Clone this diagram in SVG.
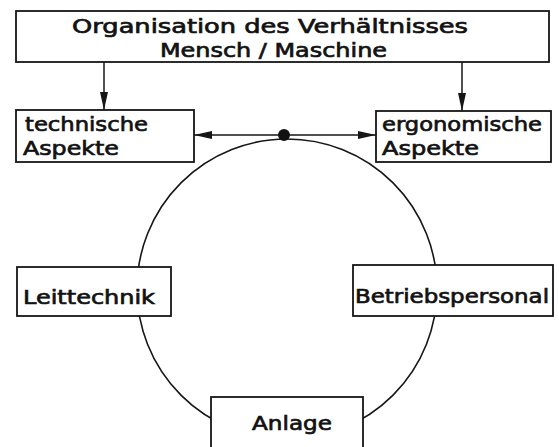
<svg xmlns="http://www.w3.org/2000/svg" width="559" height="447" viewBox="0 0 559 447">
  <style>
    .box { fill: #ffffff; stroke: #161616; stroke-width: 1.8; }
    .lbl { font-family: "DejaVu Sans", "Liberation Sans", sans-serif; font-size: 20px; fill: #121212; stroke: #121212; stroke-width: 0.7; }
    .wire { fill: none; stroke: #161616; stroke-width: 1.5; }
  </style>
  <defs>
    <marker id="head" viewBox="0 0 18 8" refX="18" refY="4" markerWidth="18" markerHeight="8" markerUnits="userSpaceOnUse" orient="auto-start-reverse">
      <path d="M0,0 L18,4 L0,8 Z" fill="#161616"/>
    </marker>
  </defs>

  <rect width="559" height="447" fill="#ffffff"/>

  <!-- ring linking the three actors -->
  <circle cx="287" cy="289" r="150" fill="none" stroke="#161616" stroke-width="1.6"/>

  <g id="connectors">
    <line class="wire" x1="104" y1="62" x2="104" y2="110" marker-end="url(#head)"/>
    <line class="wire" x1="462" y1="62" x2="462" y2="111" marker-end="url(#head)"/>
    <line class="wire" x1="194" y1="135" x2="376" y2="135" marker-start="url(#head)" marker-end="url(#head)"/>
    <circle cx="284" cy="135" r="6" fill="#111111"/>
  </g>

  <g id="organisation">
    <rect class="box" x="16" y="11" width="533" height="51"/>
    <text class="lbl" x="72" y="33" textLength="396" lengthAdjust="spacingAndGlyphs">Organisation des Verhältnisses</text>
    <text class="lbl" x="160" y="57" textLength="227" lengthAdjust="spacingAndGlyphs">Mensch / Maschine</text>
  </g>

  <g id="technische-aspekte">
    <rect class="box" x="16" y="110" width="178" height="52"/>
    <text class="lbl" x="25" y="131" textLength="123" lengthAdjust="spacingAndGlyphs">technische</text>
    <text class="lbl" x="23" y="155" textLength="96" lengthAdjust="spacingAndGlyphs">Aspekte</text>
  </g>

  <g id="ergonomische-aspekte">
    <rect class="box" x="376" y="111" width="175" height="51"/>
    <text class="lbl" x="382" y="131" textLength="160" lengthAdjust="spacingAndGlyphs">ergonomische</text>
    <text class="lbl" x="382" y="155" textLength="97" lengthAdjust="spacingAndGlyphs">Aspekte</text>
  </g>

  <g id="leittechnik">
    <rect class="box" x="17" y="267" width="154" height="49"/>
    <text class="lbl" x="23" y="304" textLength="132" lengthAdjust="spacingAndGlyphs">Leittechnik</text>
  </g>

  <g id="betriebspersonal">
    <rect class="box" x="353" y="265" width="200" height="51"/>
    <text class="lbl" x="355" y="303" textLength="194" lengthAdjust="spacingAndGlyphs">Betriebspersonal</text>
  </g>

  <g id="anlage">
    <rect class="box" x="211" y="397" width="152" height="60"/>
    <text class="lbl" x="252" y="430" textLength="80" lengthAdjust="spacingAndGlyphs">Anlage</text>
  </g>
</svg>
